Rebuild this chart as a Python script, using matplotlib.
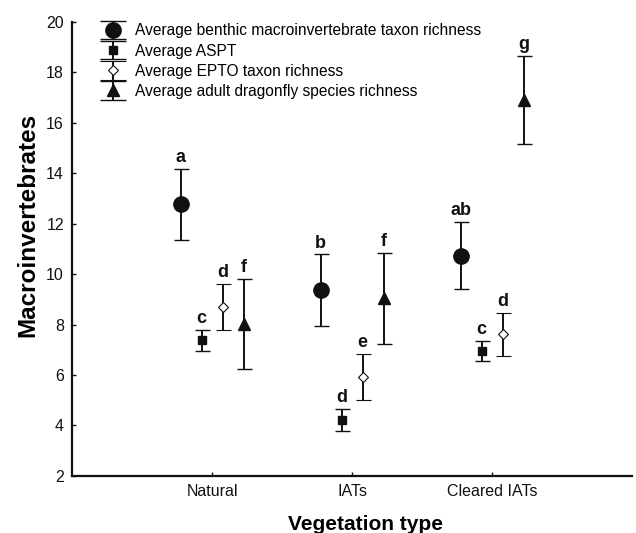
import matplotlib
matplotlib.use("Agg")
import matplotlib.pyplot as plt
from matplotlib.legend_handler import HandlerErrorbar
from matplotlib.container import ErrorbarContainer
import numpy as np

plt.rcParams['font.family'] = ['Liberation Sans', 'DejaVu Sans']

categories = ["Natural", "IATs", "Cleared IATs"]
series_names = [
    "Average benthic macroinvertebrate taxon richness",
    "Average ASPT",
    "Average EPTO taxon richness",
    "Average adult dragonfly species richness",
]
# means and half-widths of error bars, per series, per category
benthic_mean = [12.77, 9.36, 10.73]
benthic_err = [1.41, 1.42, 1.34]
aspt_mean = [7.37, 4.22, 6.95]
aspt_err = [0.42, 0.43, 0.40]
epto_mean = [8.70, 5.92, 7.61]
epto_err = [0.92, 0.92, 0.86]
dragon_mean = [8.01, 9.04, 16.90]
dragon_err = [1.79, 1.81, 1.75]

benthic_letters = ["a", "b", "ab"]
aspt_letters = ["c", "d", "c"]
epto_letters = ["d", "e", "d"]
dragon_letters = ["f", "f", "g"]

means = [benthic_mean, aspt_mean, epto_mean, dragon_mean]
errs = [benthic_err, aspt_err, epto_err, dragon_err]
letters = [benthic_letters, aspt_letters, epto_letters, dragon_letters]
offsets = [-0.225, -0.075, 0.075, 0.225]
markers = ["o", "s", "D", "^"]
msizes = [11, 5.3, 5.5, 9]
mfaces = ["#111111", "#111111", "white", "#111111"]

fig = plt.figure(figsize=(6.36, 5.33), dpi=100)
ax = fig.add_axes([0.1137, 0.107, 0.88, 0.8523])

x = np.arange(1, len(categories) + 1)
handles = []
for i in range(4):
    xs = x + offsets[i]
    style = dict(fmt=markers[i], ms=msizes[i], mfc=mfaces[i], mec="#111111",
                 mew=0.8 if i == 2 else 1, ecolor="#111111", elinewidth=1.4,
                 capthick=1.6, color="#111111")
    ax.errorbar(xs, means[i], yerr=errs[i], capsize=5.4, **style)
    # legend proxy with wider caps, as in the reference legend
    h = ax.errorbar([np.nan], [np.nan], yerr=[1.0], capsize=9.4, **style)
    handles.append(h)
    for xi, m, e, lab in zip(xs, means[i], errs[i], letters[i]):
        ax.annotate(lab, (xi, m + e), xytext=(0, 2), textcoords="offset points",
                    ha="center", va="bottom", fontsize=13, fontweight="bold",
                    color="#111111")

ax.set_xlim(0, 4)
ax.set_ylim(2, 20)
ax.set_yticks(np.arange(2, 21, 2))
ax.set_xticks(x)
ax.set_xticklabels(categories)
ax.tick_params(axis="both", direction="in", length=3, width=1, labelsize=11.5,
               colors="#111111", pad=6)
ax.tick_params(axis="x", pad=6)
for s in ["top", "right"]:
    ax.spines[s].set_visible(False)
for s in ["left", "bottom"]:
    ax.spines[s].set_linewidth(1.6)
    ax.spines[s].set_color("#111111")

ax.set_xlabel("Vegetation type", fontsize=15, fontweight="bold")
ax.set_ylabel("Macroinvertebrates", fontsize=17.5, fontweight="bold")
ax.xaxis.set_label_coords(0.524, -0.085)
ax.yaxis.set_label_coords(-0.058, 0.553)

leg = ax.legend(handles, series_names, loc="upper left",
                bbox_to_anchor=(0.04, 1.01), frameon=False,
                fontsize=11.2, handlelength=1.6, handletextpad=0.6,
                labelspacing=0.33, borderaxespad=0,
                handler_map={ErrorbarContainer: HandlerErrorbar(xerr_size=0.6)})

fig.savefig("out.png", dpi=100)
